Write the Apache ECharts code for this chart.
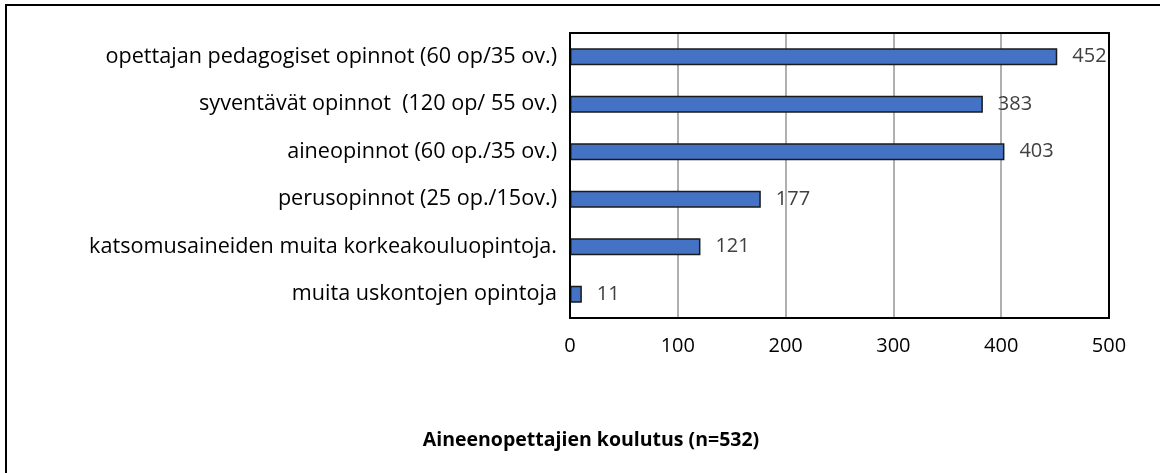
<!DOCTYPE html>
<html><head><meta charset="utf-8">
<script src="https://cdn.jsdelivr.net/npm/echarts@6/dist/echarts.min.js"></script>
<style>html,body{margin:0;padding:0;background:#fff}#c{width:1160px;height:473px}</style>
</head><body><div id="c"></div>
<script>
const categories = [
  "muita uskontojen opintoja",
  "katsomusaineiden muita korkeakouluopintoja.",
  "perusopinnot (25 op./15ov.)",
  "aineopinnot (60 op./35 ov.)",
  "syventävät opinnot  (120 op/ 55 ov.)",
  "opettajan pedagogiset opinnot (60 op/35 ov.)"
];
const values = [11, 121, 177, 403, 383, 452];
const xTicks = [0, 100, 200, 300, 400, 500];
const title = "Aineenopettajien koulutus (n=532)";

const chart = echarts.init(document.getElementById('c'));
const FONT = "'Open Sans', sans-serif";
chart.setOption({
  animation: false,
  title: {
    text: title, left: 586, top: 425, textAlign: 'center',
    textStyle: {fontFamily: FONT, fontSize: 19.5, fontWeight: 'bold', color: '#000'}
  },
  grid: {left: 570, right: 51, top: 33, bottom: 155, containLabel: false},
  xAxis: {
    type: 'value', min: 0, max: 500, interval: 100,
    axisLabel: {fontFamily: FONT, fontSize: 20, color: '#000', margin: 18,
      formatter: v => xTicks.includes(v) ? String(v) : ''},
    axisLine: {show: false}, axisTick: {show: false},
    splitLine: {show: true, lineStyle: {color: '#b0b0b0', width: 2}}
  },
  yAxis: {
    type: 'category', data: categories,
    axisLabel: {fontFamily: FONT, fontSize: 21.6, color: '#000', margin: 13},
    axisLine: {show: false}, axisTick: {show: false}
  },
  series: [{
    type: 'bar', data: values, barWidth: 17,
    itemStyle: {color: '#4472C4', borderColor: '#1a1a1a', borderWidth: 1.5},
    label: {show: true, position: 'right', distance: 15, fontFamily: FONT, fontSize: 20, color: '#404040'}
  }],
  graphic: [{
    type: 'rect', shape: {x: 6, y: 5, width: 1170, height: 480},
    style: {fill: 'none', stroke: '#000', lineWidth: 2}, silent: true, z: 100
  }, {
    type: 'rect', shape: {x: 570, y: 33, width: 539, height: 285},
    style: {fill: 'none', stroke: '#000', lineWidth: 2}, silent: true, z: 100
  }]
});
</script></body></html>
